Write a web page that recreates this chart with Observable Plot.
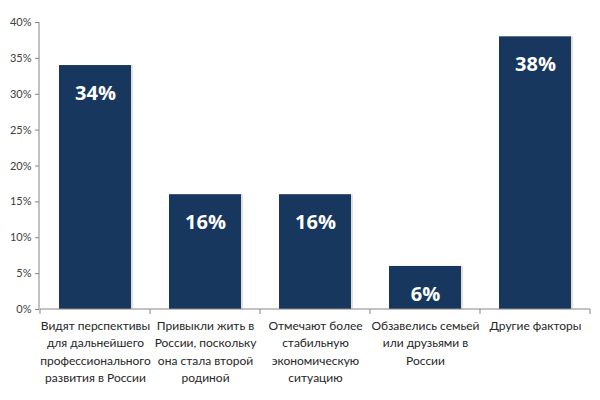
<!DOCTYPE html>
<html><head><meta charset="utf-8">
<script src="https://cdn.jsdelivr.net/npm/d3@7"></script>
<script src="https://cdn.jsdelivr.net/npm/@observablehq/plot@0.6"></script>
<style>body{margin:0;background:#fff}</style>
</head><body><div id="chart"></div>
<script>
const categories = [
  "Видят перспективы\nдля дальнейшего\nпрофессионального\nразвития в России",
  "Привыкли жить в\nРоссии, поскольку\nона стала второй\nродиной",
  "Отмечают более\nстабильную\nэкономическую\nситуацию",
  "Обзавелись семьей\nили друзьями в\nРоссии",
  "Другие факторы"
];
const values = [0.34, 0.16, 0.16, 0.06, 0.38];
const yTicks = [0, 0.05, 0.10, 0.15, 0.20, 0.25, 0.30, 0.35, 0.40];

const data = categories.map((c, i) => ({category: c, value: values[i]}));

// axis lines and separators at band boundaries
const axisLines = (index, scales, values, dims) => {
  const x = scales.x;
  const step = x.step(), bw = x.bandwidth();
  const y0 = dims.height - dims.marginBottom;
  const g = d3.create("svg:g").attr("stroke", "#868686");
  const xs = categories.map(c => x(c) - (step - bw) / 2);
  xs.push(x(categories[categories.length - 1]) + bw + (step - bw) / 2);
  for (const xv of xs) {
    g.append("line").attr("x1", xv).attr("x2", xv).attr("y1", y0).attr("y2", y0 + 5);
  }
  g.append("line").attr("x1", xs[0]).attr("x2", xs[xs.length - 1]).attr("y1", y0).attr("y2", y0);
  g.append("line").attr("x1", dims.marginLeft).attr("x2", dims.marginLeft)
    .attr("y1", scales.y(0.4)).attr("y2", y0);
  return g.node();
};

const chart = Plot.plot({
  width: 600,
  height: 400,
  marginLeft: 39,
  marginRight: 10,
  marginTop: 22,
  marginBottom: 91,
  style: {fontFamily: "Lato, 'Open Sans', sans-serif", background: "#fff"},
  x: {domain: categories, padding: 0.35, paddingOuter: 0.175, align: 0.5, axis: null},
  y: {domain: [0, 0.4]},
  marks: [
    Plot.axisY({ticks: yTicks, tickFormat: d3.format(".0%"), tickSize: 4, tickPadding: 4,
      fontSize: 11, color: "#404040", stroke: "#868686", label: null}),
    Plot.barY(data, {x: "category", y: "value", fill: "#e0e0e0", dx: 2}),
    Plot.barY(data, {x: "category", y: "value", fill: "#17375E"}),
    axisLines,
    Plot.text(categories, {x: d => d, frameAnchor: "bottom", lineAnchor: "top", dy: 8,
      fontSize: 12, lineHeight: 1.45, fill: "#262626"}),
    Plot.text(data, {x: "category", y: "value", text: d => d3.format(".0%")(d.value), dy: 28,
      fill: "white", fontSize: 20, fontWeight: "bold", fontFamily: "'Open Sans', sans-serif"})
  ]
});
document.getElementById("chart").append(chart);
</script>
</body></html>
